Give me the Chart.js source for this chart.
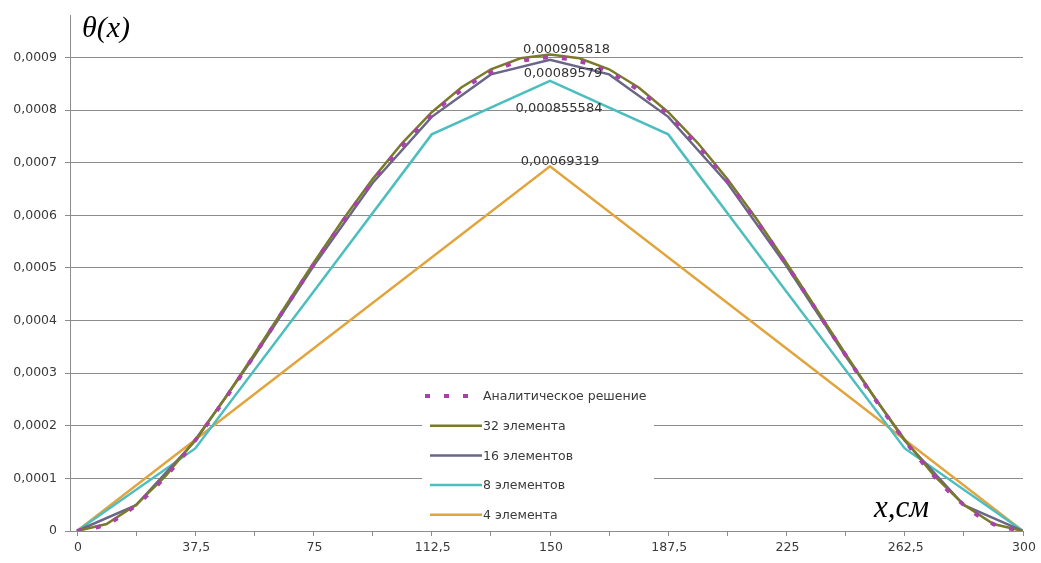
<!DOCTYPE html>
<html>
<head>
<meta charset="utf-8">
<script src="https://cdn.jsdelivr.net/npm/chart.js@4.4.0/dist/chart.umd.min.js"></script>
<style>
  html, body { margin: 0; padding: 0; background: #ffffff; }
  canvas { display: block; }
</style>
</head>
<body>
<canvas id="chart" width="1041" height="563"></canvas>
<script>
// Mesh node coordinates, cm
const nodes32 = [0, 9.375, 18.75, 28.125, 37.5, 46.875, 56.25, 65.625, 75, 84.375, 93.75, 103.125,
  112.5, 121.875, 131.25, 140.625, 150, 159.375, 168.75, 178.125, 187.5, 196.875, 206.25, 215.625,
  225, 234.375, 243.75, 253.125, 262.5, 271.875, 281.25, 290.625, 300];
const nodes16 = [0, 18.75, 37.5, 56.25, 75, 93.75, 112.5, 131.25, 150, 168.75, 187.5, 206.25, 225,
  243.75, 262.5, 281.25, 300];
const nodes8 = [0, 37.5, 75, 112.5, 150, 187.5, 225, 262.5, 300];
const nodes4 = [0, 75, 150, 225, 300];

// θ(x) values
const analytic = [0, 0.0000132, 0.00004944, 0.00010394, 0.00017227, 0.00025028, 0.0003342, 0.00042057,
  0.00050625, 0.00058844, 0.00066467, 0.0007328, 0.00079102, 0.00083783, 0.0008721, 0.00089298, 0.0009,
  0.00089298, 0.0008721, 0.00083783, 0.00079102, 0.0007328, 0.00066467, 0.00058844, 0.00050625,
  0.00042057, 0.0003342, 0.00025028, 0.00017227, 0.00010394, 0.00004944, 0.0000132, 0];
const fem32 = [0, 0.0000133, 0.0000498, 0.00010462, 0.00017338, 0.00025191, 0.00033638, 0.0004233,
  0.00050954, 0.00059227, 0.00066899, 0.00073756, 0.00079616, 0.00084328, 0.00087777, 0.00089879, 0.000905818,
  0.00089879, 0.00087777, 0.00084328, 0.00079616, 0.00073756, 0.00066899, 0.00059227, 0.00050954,
  0.0004233, 0.00033638, 0.00025191, 0.00017338, 0.00010462, 0.0000498, 0.0000133, 0];
const fem16 = [0, 0.00004921, 0.00017146, 0.00033264, 0.00050388, 0.00066156, 0.00078731, 0.00086801,
  0.00089579, 0.00086801, 0.00078731, 0.00066156, 0.00050388, 0.00033264, 0.00017146, 0.00004921, 0];
const fem8 = [0, 0.000157, 0.000455, 0.000754, 0.000855584, 0.000754, 0.000455, 0.000157, 0];
const fem4 = [0, 0.000347, 0.00069319, 0.000347, 0];

const seriesNames = ['Аналитическое решение', '32 элемента', '16 элементов', '8 элементов', '4 элемента'];

// Axis ticks
const xTickMarks = [0, 18.75, 37.5, 56.25, 75, 93.75, 112.5, 131.25, 150, 168.75, 187.5, 206.25, 225,
  243.75, 262.5, 281.25, 300];
const xTickLabels = ['0', '37,5', '75', '112,5', '150', '187,5', '225', '262,5', '300'];
const yTickValues = [0, 0.0001, 0.0002, 0.0003, 0.0004, 0.0005, 0.0006, 0.0007, 0.0008, 0.0009];

const pts = (xs, ys) => xs.map((x, i) => ({ x: x, y: ys[i] }));
const fmt = v => String(v).replace('.', ',');

const GRID = '#8c8c8c';
const TEXT = '#3a3a3a';
const FONT = 'DejaVu Sans';

// Peak value labels, legend and axis captions
const annotations = {
  id: 'annotations',
  beforeDatasetsDraw(chart) {
    const o = chart.options.plugins.annotations;
    const ctx = chart.ctx;
    ctx.save();
    ctx.fillStyle = '#ffffff';
    ctx.fillRect(o.legend.left, o.legend.top, o.legend.width, o.legend.height);
    ctx.restore();
  },
  afterDatasetsDraw(chart) {
    const o = chart.options.plugins.annotations;
    const ctx = chart.ctx;
    ctx.save();

    // value at the peak node of each mesh
    ctx.font = '13px "' + FONT + '"';
    ctx.fillStyle = '#333333';
    ctx.textAlign = 'center';
    ctx.textBaseline = 'middle';
    chart.data.datasets.forEach((ds, di) => {
      const off = o.peakOffsets[di];
      if (!off) return;
      let best = 0;
      ds.data.forEach((p, i) => { if (p.y > ds.data[best].y) best = i; });
      const el = chart.getDatasetMeta(di).data[best];
      ctx.fillText(fmt(ds.data[best].y), el.x + off[0], el.y + off[1]);
    });

    // legend
    const L = o.legend;
    ctx.font = '12.5px "' + FONT + '"';
    ctx.textAlign = 'left';
    chart.data.datasets.forEach((ds, di) => {
      const y = L.firstRow + di * L.rowStep;
      ctx.beginPath();
      ctx.strokeStyle = ds.borderColor;
      ctx.lineWidth = ds.borderWidth;
      ctx.setLineDash(ds.borderDash || []);
      ctx.lineCap = 'butt';
      if (ds.borderDash) {
        ctx.moveTo(L.sampleX0 - 5, y);
      } else {
        ctx.moveTo(L.sampleX0, y);
      }
      ctx.lineTo(L.sampleX1, y);
      ctx.stroke();
      ctx.setLineDash([]);
      ctx.fillStyle = TEXT;
      ctx.fillText(ds.label, L.textX, y + 1);
    });

    // axis captions
    ctx.fillStyle = '#000000';
    ctx.textAlign = 'left';
    ctx.textBaseline = 'alphabetic';
    ctx.font = 'italic 30px "Liberation Serif"';
    ctx.fillText('θ(x)', 82, 37);
    ctx.font = 'italic 31px "Liberation Serif"';
    ctx.fillText('x,см', 874, 517);
    ctx.restore();
  }
};

new Chart(document.getElementById('chart'), {
  type: 'line',
  data: {
    datasets: [
      { label: seriesNames[0], data: pts(nodes32, analytic), borderColor: '#a941a8', borderWidth: 4,
        borderDash: [5, 14], cubicInterpolationMode: 'monotone' },
      { label: seriesNames[1], data: pts(nodes32, fem32), borderColor: '#7a7a2a', borderWidth: 2.5 },
      { label: seriesNames[2], data: pts(nodes16, fem16), borderColor: '#6b6688', borderWidth: 2.5 },
      { label: seriesNames[3], data: pts(nodes8, fem8), borderColor: '#4dbec0', borderWidth: 2.5 },
      { label: seriesNames[4], data: pts(nodes4, fem4), borderColor: '#e2a43c', borderWidth: 2.5 }
    ]
  },
  options: {
    responsive: false,
    animation: false,
    devicePixelRatio: 1,
    layout: { padding: { top: 13, right: 18, left: 0, bottom: 0 } },
    elements: { point: { radius: 0 }, line: { tension: 0, fill: false } },
    scales: {
      x: {
        type: 'linear',
        min: -2.22,
        max: 300,
        afterBuildTicks: s => { s.ticks = xTickMarks.map(v => ({ value: v })); },
        afterFit: s => { s.height = 32; },
        grid: { drawOnChartArea: false, drawTicks: true, tickLength: 5, color: GRID, lineWidth: 1 },
        border: { color: GRID, width: 1 },
        ticks: {
          autoSkip: false, maxRotation: 0, minRotation: 0, padding: 4, labelOffset: 1,
          color: TEXT, font: { family: FONT, size: 12.5 },
          callback: (v, i) => (i % 2 === 0 ? xTickLabels[i / 2] : '')
        }
      },
      y: {
        type: 'linear',
        min: 0,
        max: 0.00098,
        afterBuildTicks: s => { s.ticks = yTickValues.map(v => ({ value: v })); },
        afterFit: s => { s.width = 70; },
        grid: { color: GRID, lineWidth: 1, tickLength: 5, drawTicks: true },
        border: { color: GRID, width: 1 },
        ticks: {
          padding: 8, color: TEXT, font: { family: FONT, size: 12.5 },
          callback: v => (v === 0 ? '0' : v.toFixed(4).replace('.', ','))
        }
      }
    },
    plugins: {
      legend: { display: false },
      tooltip: { enabled: false },
      annotations: {
        peakOffsets: [null, [16.5, -5], [13, 13.5], [9, 28], [10, -4.6]],
        legend: { left: 422, top: 380, width: 232, height: 148,
          firstRow: 396, rowStep: 29.7, sampleX0: 430, sampleX1: 482, textX: 483 }
      }
    }
  },
  plugins: [annotations]
});
</script>
</body>
</html>
